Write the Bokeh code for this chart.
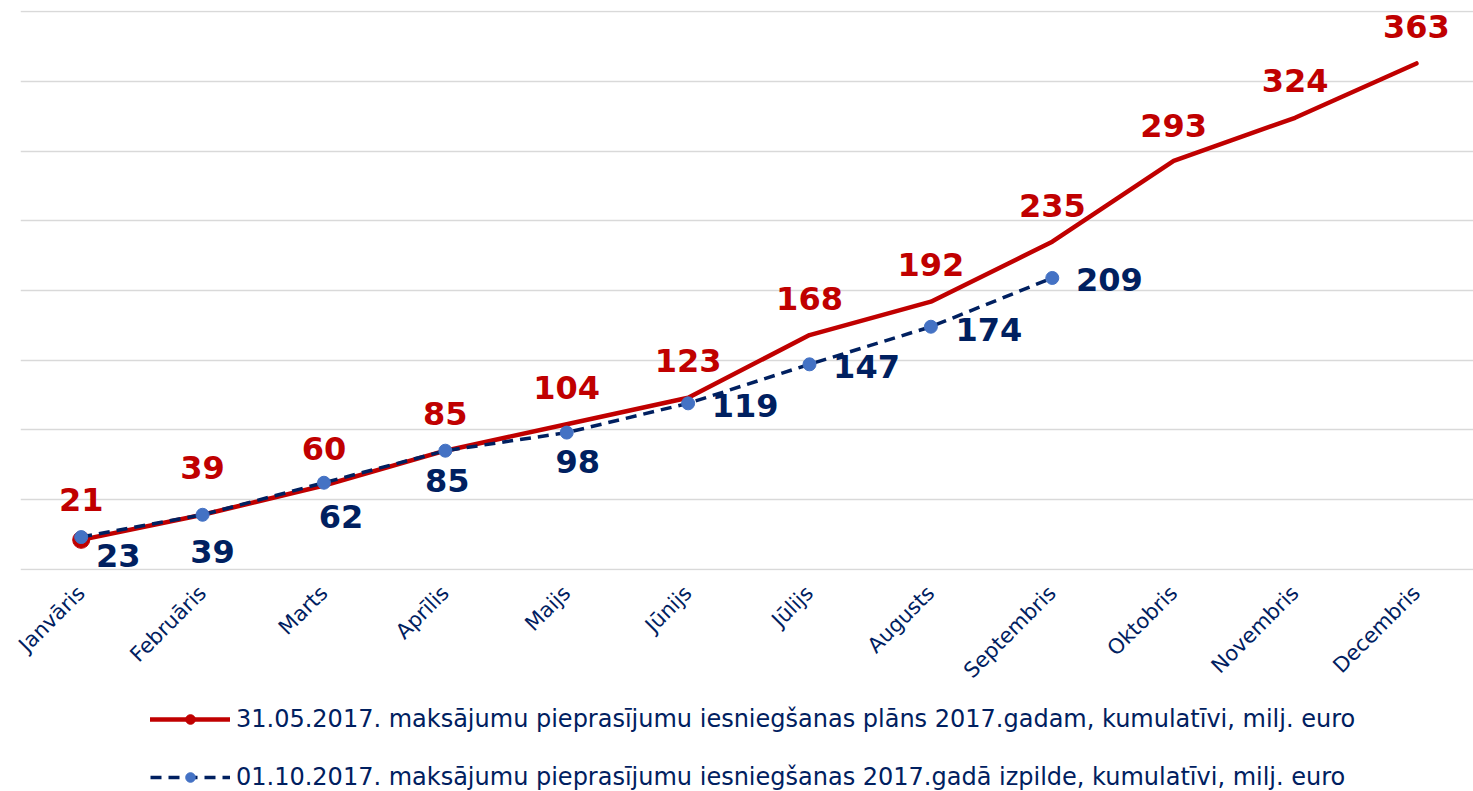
import math
from bokeh.plotting import figure
from bokeh.layouts import column
from bokeh.models import ColumnDataSource, FixedTicker, Legend, LegendItem, Range1d
from bokeh.core.properties import value
from bokeh.embed import file_html
from bokeh.resources import INLINE

months = ["Janvāris", "Februāris", "Marts", "Aprīlis", "Maijs", "Jūnijs",
          "Jūlijs", "Augusts", "Septembris", "Oktobris", "Novembris", "Decembris"]
plan = [21, 39, 60, 85, 104, 123, 168, 192, 235, 293, 324, 363]
actual = [23, 39, 62, 85, 98, 119, 147, 174, 209]
plan_name = "31.05.2017. maksājumu pieprasījumu iesniegšanas plāns 2017.gadam, kumulatīvi, milj. euro"
actual_name = "01.10.2017. maksājumu pieprasījumu iesniegšanas 2017.gadā izpilde, kumulatīvi, milj. euro"

# label placement (screen px offsets: dx, dy with dy positive downward)
plan_lbl_dy = [-40, -47, -37, -37, -37, -37, -37, -37, -36, -35, -37, -37]
act_lbl_off = [(37, 18), (10, 37), (17, 34), (2, 30), (11, 29), (57, 2), (57, 2), (58, 3), (57, 2)]

RED = "#C00000"
NAVY = "#002060"
BLUE = "#4472C4"
FONT = "DejaVu Sans"

px = list(range(len(plan)))
ax = list(range(len(actual)))

plan_src = ColumnDataSource(dict(x=px, y=plan, t=[str(v) for v in plan], dy=plan_lbl_dy))
act_src = ColumnDataSource(dict(x=ax, y=actual, t=[str(v) for v in actual],
                                dx=[o[0] for o in act_lbl_off], dy=[o[1] for o in act_lbl_off]))

W = 1473
p = figure(width=W, height=700, output_backend="svg", toolbar_location=None,
           x_range=Range1d(-0.5, 11.47), y_range=Range1d(-1, 401),
           min_border_left=20, min_border_right=0, min_border_top=10, min_border_bottom=130)
p.outline_line_color = None
p.background_fill_color = "white"

p.yaxis.visible = False
p.xgrid.grid_line_color = None
p.ygrid.ticker = FixedTicker(ticks=list(range(0, 401, 50)))
p.ygrid.grid_line_color = "#D9D9D9"
p.ygrid.grid_line_width = 1.5

p.xaxis.ticker = FixedTicker(ticks=px)
p.xaxis.major_label_overrides = {i: m for i, m in enumerate(months)}
p.xaxis.major_label_orientation = math.pi / 4
p.xaxis.axis_line_color = None
p.xaxis.major_tick_line_color = None
p.xaxis.minor_tick_line_color = None
p.xaxis.major_label_text_font = FONT
p.xaxis.major_label_text_font_size = "21px"
p.xaxis.major_label_text_color = NAVY
p.xaxis.major_label_standoff = 13

p.line("x", "y", source=plan_src, line_color=RED, line_width=4.5, line_join="round", line_cap="round")
first_src = ColumnDataSource(dict(x=px[:1], y=plan[:1]))
p.scatter("x", "y", source=first_src, marker="circle", size=17, fill_color=RED, line_color=RED)

p.line("x", "y", source=act_src, line_color=NAVY, line_width=3.5, line_dash="11 7", line_join="round")
p.scatter("x", "y", source=act_src, marker="circle", size=13, fill_color=BLUE, line_color=BLUE)

p.text("x", "y", text="t", source=plan_src, y_offset="dy", text_align="center", text_baseline="middle",
       text_font=value(FONT), text_font_style="bold", text_font_size="32px", text_color=RED)
p.text("x", "y", text="t", source=act_src, x_offset="dx", y_offset="dy", text_align="center", text_baseline="middle",
       text_font=value(FONT), text_font_style="bold", text_font_size="32px", text_color=NAVY)

# legend panel (separate strip under the chart); renderers hold no visible data
lg = figure(width=W, height=91, output_backend="svg", toolbar_location=None,
            x_range=Range1d(0, 1), y_range=Range1d(0, 1),
            min_border_left=0, min_border_right=0, min_border_top=0, min_border_bottom=0)
lg.outline_line_color = None
lg.axis.visible = False
lg.grid.visible = False
nan = float("nan")
dummy = lambda: ColumnDataSource(dict(x=[nan], y=[nan]))
l1 = lg.line("x", "y", source=dummy(), line_color=RED, line_width=4.5, line_cap="round")
m1 = lg.scatter("x", "y", source=dummy(), marker="circle", size=17, fill_color=RED, line_color=RED)
l2 = lg.line("x", "y", source=dummy(), line_color=NAVY, line_width=3.5, line_dash="11 7")
m2 = lg.scatter("x", "y", source=dummy(), marker="circle", size=13, fill_color=BLUE, line_color=BLUE)

legend = Legend(items=[LegendItem(label=plan_name, renderers=[l1, m1]),
                       LegendItem(label=actual_name, renderers=[l2, m2])],
                location=(130, 0), orientation="vertical",
                glyph_width=80, glyph_height=24, label_height=24, spacing=30,
                label_text_font=FONT, label_text_font_size="24px", label_text_color=NAVY,
                label_standoff=6, border_line_color=None, background_fill_alpha=0,
                padding=0, margin=0)
lg.add_layout(legend, "center")

layout = column(p, lg, spacing=0)
open("out.html", "w").write(file_html(layout, INLINE))
